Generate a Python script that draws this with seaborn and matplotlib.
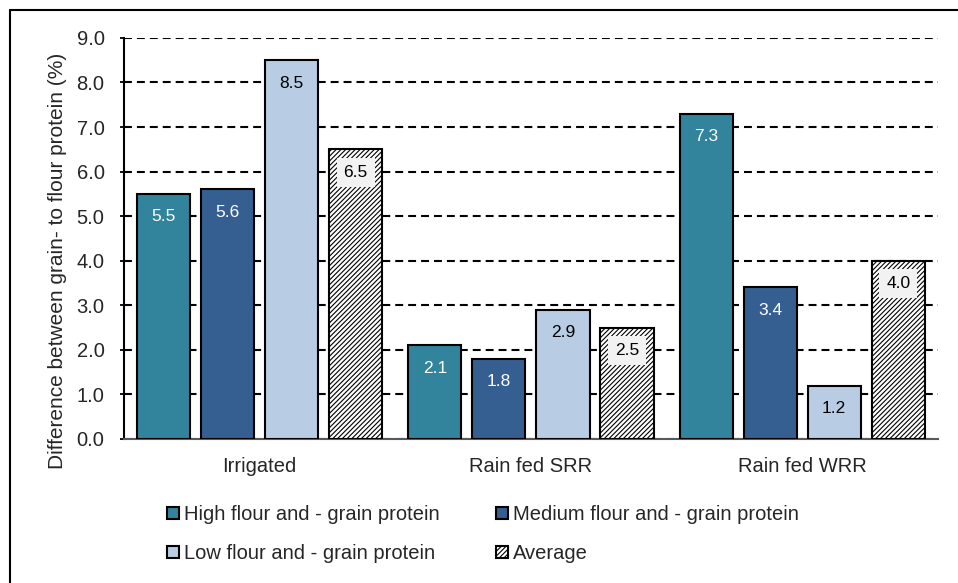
import matplotlib
matplotlib.use("Agg")
import matplotlib.pyplot as plt
from matplotlib.lines import Line2D
import seaborn as sns
import pandas as pd

# Data
categories = ["Irrigated", "Rain fed SRR", "Rain fed WRR"]
series = [
    "High flour and - grain protein",
    "Medium flour and - grain protein",
    "Low flour and - grain protein",
    "Average",
]
high_vals = [5.5, 2.1, 7.3]
medium_vals = [5.6, 1.8, 3.4]
low_vals = [8.5, 2.9, 1.2]
average_vals = [6.5, 2.5, 4.0]
y_ticks = [0.0, 1.0, 2.0, 3.0, 4.0, 5.0, 6.0, 7.0, 8.0, 9.0]

colors = ["#31849B", "#365F91", "#B8CCE4", "#FFFFFF"]
label_colors = ["white", "white", "black", "black"]
all_vals = [high_vals, medium_vals, low_vals, average_vals]

rows = []
for name, vals in zip(series, all_vals):
    for cat, v in zip(categories, vals):
        rows.append({"Condition": cat, "Series": name, "Value": v})
df = pd.DataFrame(rows)

sns.set_style("white")
plt.rcParams["font.family"] = ["Liberation Sans", "DejaVu Sans"]
plt.rcParams["hatch.linewidth"] = 0.8

fig = plt.figure(figsize=(9.58, 5.83), dpi=100)
ax = fig.add_axes([0.1294, 0.247, 0.8496, 0.688])

sns.barplot(
    data=df, x="Condition", y="Value", hue="Series",
    order=categories, hue_order=series, palette=colors,
    width=0.944, gap=0.17, edgecolor="black", linewidth=1.5,
    saturation=1, legend=False, ax=ax, zorder=3,
)

# Hatched "Average" bars
for bar in ax.containers[3]:
    bar.set_hatch("///////")

# Value labels just inside the top of each bar
for idx, (cont, col, vals) in enumerate(zip(ax.containers, label_colors, all_vals)):
    for bar, v in zip(cont, vals):
        x = bar.get_x() + bar.get_width() / 2
        kw = {}
        if idx == 3:
            kw["bbox"] = dict(boxstyle="square,pad=0.4", fc="#F2F2F2", ec="none")
        ax.annotate(f"{v:.1f}", (x, v), xytext=(0, -16.5), textcoords="offset points",
                    ha="center", va="center", fontsize=12.5, color=col, zorder=5, **kw)

ax.set_ylim(0, 9.0)
ax.set_xlim(-0.5, 2.5)
ax.set_yticks(y_ticks)
ax.set_yticklabels([f"{t:.1f}" for t in y_ticks])
ax.yaxis.grid(True, linestyle=(0, (3.8, 2.4)), color="black", linewidth=1.5)
ax.set_axisbelow(True)
ax.tick_params(axis="y", labelsize=14.5, pad=11, length=3, width=1.3,
               color="black", direction="out", left=True)
ax.tick_params(axis="x", labelsize=14.5, pad=13, length=0)
ax.set_xlabel("")
ax.set_ylabel("Difference between grain- to flour protein (%)", fontsize=15)
ax.yaxis.set_label_coords(-0.070, 0.444)

for s in ["top", "right"]:
    ax.spines[s].set_visible(False)
ax.spines["left"].set_color("black")
ax.spines["left"].set_linewidth(1.5)
ax.spines["bottom"].set_color("#595959")
ax.spines["bottom"].set_linewidth(1.5)

# Legend filled row by row: High, Medium / Low, Average
order = [0, 2, 1, 3]
handles = [ax.containers[i] for i in order]
labels = [series[i] for i in order]
fig.legend(
    handles, labels, loc="upper left", bbox_to_anchor=(167 / 958, 1 - 505 / 583),
    ncol=2, frameon=False, fontsize=14.5, handlelength=0.6, handleheight=0.6,
    handletextpad=0.25, columnspacing=2.8, labelspacing=1.0, borderpad=0,
    borderaxespad=0,
)

# Chart frame (top and left edges)
fig.add_artist(Line2D([10 / 958, 1.0], [1 - 10 / 583, 1 - 10 / 583],
                      transform=fig.transFigure, color="black", linewidth=1.5))
fig.add_artist(Line2D([10 / 958, 10 / 958], [0.0, 1 - 10 / 583],
                      transform=fig.transFigure, color="black", linewidth=1.5))

fig.savefig("out.png", dpi=100)
